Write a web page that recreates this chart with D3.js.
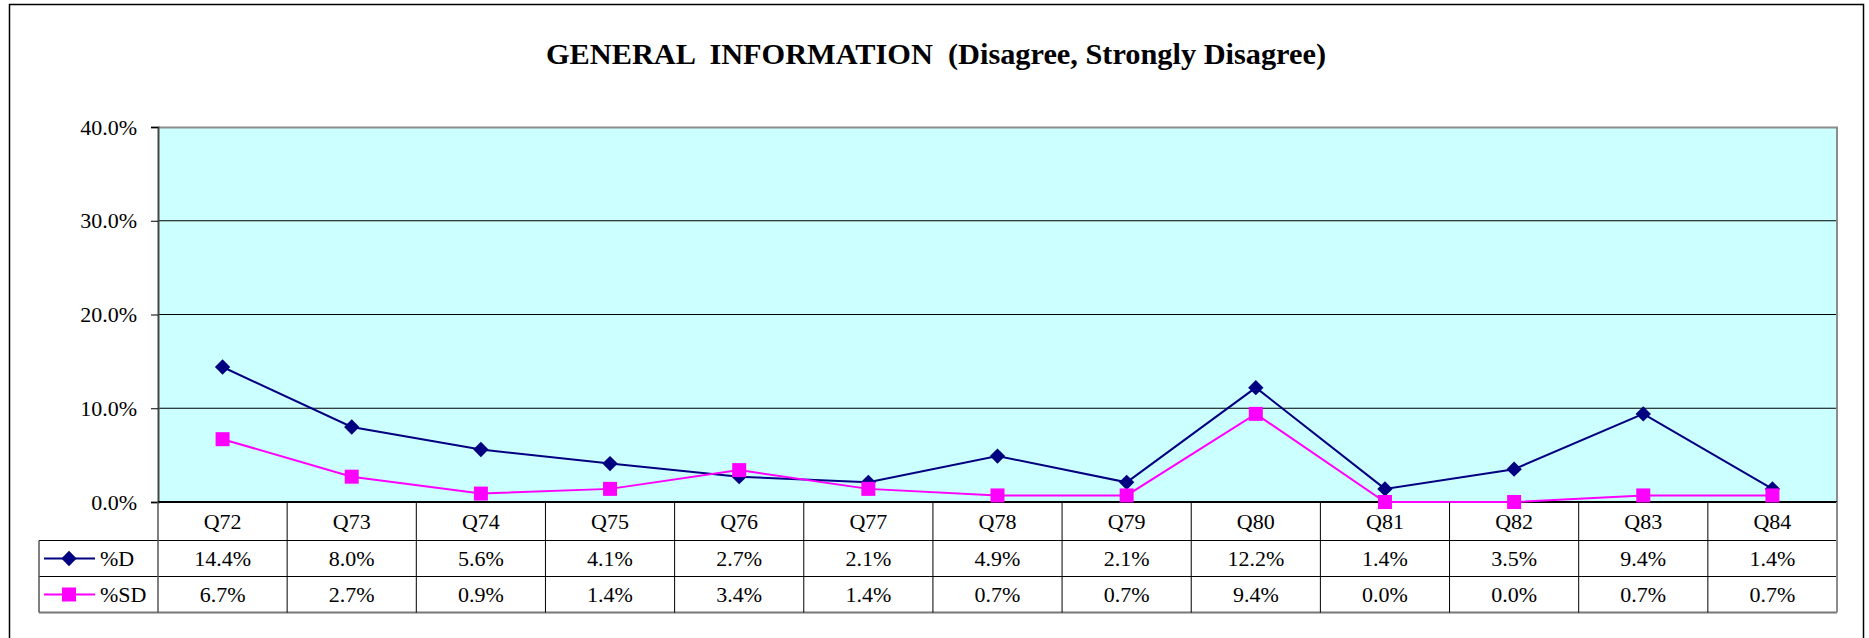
<!DOCTYPE html>
<html>
<head>
<meta charset="utf-8">
<script src="https://cdn.jsdelivr.net/npm/d3@7"></script>
<style>
    body { margin: 0; background: #fff; }
    svg text { font-family: "Liberation Serif", "Times New Roman", serif; fill: #000; }
</style>
</head>
<body>
<div id="chart"></div>
<script>
// data
const categories = ["Q72", "Q73", "Q74", "Q75", "Q76", "Q77", "Q78", "Q79", "Q80", "Q81", "Q82", "Q83", "Q84"];
const pctD = [14.4, 8.0, 5.6, 4.1, 2.7, 2.1, 4.9, 2.1, 12.2, 1.4, 3.5, 9.4, 1.4];
const pctSD = [6.7, 2.7, 0.9, 1.4, 3.4, 1.4, 0.7, 0.7, 9.4, 0.0, 0.0, 0.7, 0.7];
const yTicks = [0, 10, 20, 30, 40];
const seriesNames = ["%D", "%SD"];
const chartTitle = "GENERAL  INFORMATION  (Disagree, Strongly Disagree)";

const W = 1869, H = 638;
const margin = { top: 127, left: 158, right: 32, bottom: 136 };
const plotW = W - margin.left - margin.right;
const plotH = H - margin.top - margin.bottom;
const rowH = [38.5, 36, 36];
const fontSize = 22;

const svg = d3.select("#chart").append("svg")
    .attr("width", W)
    .attr("height", H);

// outer frame
svg.append("rect")
    .attr("x", 9.5).attr("y", 4.5)
    .attr("width", 1854).attr("height", H + 10)
    .attr("fill", "#fff")
    .attr("stroke", "#000")
    .attr("stroke-width", 1.5);

svg.append("text")
    .attr("x", 936)
    .attr("y", 64)
    .attr("text-anchor", "middle")
    .attr("font-size", 30)
    .attr("font-weight", "bold")
    .attr("textLength", 780)
    .attr("lengthAdjust", "spacingAndGlyphs")
    .style("white-space", "pre")
    .text(chartTitle);

const x = d3.scaleBand()
    .domain(categories)
    .range([0, plotW]);

const y = d3.scaleLinear()
    .domain([0, 40])
    .range([plotH, 0]);

const plot = svg.append("g")
    .attr("transform", `translate(${margin.left},${margin.top})`);

plot.append("rect")
    .attr("width", plotW)
    .attr("height", plotH)
    .attr("fill", "#ccffff");

// gridlines
plot.selectAll(".grid")
    .data(yTicks.filter(d => d > 0 && d < 40))
    .enter().append("line")
    .attr("x1", 0).attr("x2", plotW)
    .attr("y1", d => y(d)).attr("y2", d => y(d))
    .attr("stroke", "#000")
    .attr("stroke-width", 1);

// plot border (grey top/right)
plot.append("path")
    .attr("d", `M0,0.5H${plotW}V${plotH}`)
    .attr("fill", "none")
    .attr("stroke", "#8c8c8c")
    .attr("stroke-width", 2);

const yAxis = d3.axisLeft(y)
    .tickValues(yTicks)
    .tickSize(7)
    .tickPadding(14)
    .tickFormat(d => d3.format(".1f")(d) + "%");

plot.append("g")
    .attr("class", "y-axis")
    .call(yAxis)
    .call(g => g.select(".domain").attr("stroke", "#444").attr("stroke-width", 2))
    .call(g => g.selectAll(".tick line").attr("stroke", "#000"))
    .call(g => g.selectAll("text").attr("font-size", fontSize).attr("fill", "#000"));

// zero axis line
plot.append("line")
    .attr("x1", 0).attr("x2", plotW)
    .attr("y1", plotH).attr("y2", plotH)
    .attr("stroke", "#000")
    .attr("stroke-width", 2);

const line = d3.line()
    .x((d, i) => x(categories[i]) + x.bandwidth() / 2)
    .y(d => y(d));

const colors = ["#000080", "#ff00ff"];
const allSeries = [pctD, pctSD];

allSeries.forEach((s, k) => {
    plot.append("path")
        .attr("d", line(s))
        .attr("fill", "none")
        .attr("stroke", colors[k])
        .attr("stroke-width", 2);
});

// markers
const diamond = d3.symbol().type(d3.symbolDiamond2).size(150);
plot.selectAll(".mk-d")
    .data(pctD)
    .enter().append("path")
    .attr("d", diamond)
    .attr("transform", (d, i) => `translate(${x(categories[i]) + x.bandwidth() / 2},${y(d)})`)
    .attr("fill", colors[0]);

plot.selectAll(".mk-sd")
    .data(pctSD)
    .enter().append("rect")
    .attr("x", (d, i) => x(categories[i]) + x.bandwidth() / 2 - 7)
    .attr("y", d => y(d) - 7)
    .attr("width", 14).attr("height", 14)
    .attr("fill", colors[1]);

// data table
const table = svg.append("g")
    .attr("transform", `translate(${margin.left},${margin.top + plotH})`);

const rowTop = [0, rowH[0], rowH[0] + rowH[1]];
const tableH = rowH[0] + rowH[1] + rowH[2];
const legendX = 39 - margin.left;

// horizontal lines
table.append("line")
    .attr("x1", legendX).attr("x2", plotW)
    .attr("y1", rowTop[1]).attr("y2", rowTop[1])
    .attr("stroke", "#000");
table.append("line")
    .attr("x1", legendX).attr("x2", plotW)
    .attr("y1", rowTop[2]).attr("y2", rowTop[2])
    .attr("stroke", "#000");
table.append("line")
    .attr("x1", legendX).attr("x2", plotW)
    .attr("y1", tableH).attr("y2", tableH)
    .attr("stroke", "#777").attr("stroke-width", 2);

// vertical lines
table.selectAll(".vline")
    .data(categories.slice(1))
    .enter().append("line")
    .attr("x1", d => x(d)).attr("x2", d => x(d))
    .attr("y1", 0).attr("y2", tableH)
    .attr("stroke", "#000");
table.append("line")
    .attr("x1", 0).attr("x2", 0)
    .attr("y1", 0).attr("y2", tableH)
    .attr("stroke", "#555").attr("stroke-width", 1.5);
table.append("line")
    .attr("x1", legendX).attr("x2", legendX)
    .attr("y1", rowTop[1]).attr("y2", tableH)
    .attr("stroke", "#555").attr("stroke-width", 1.5);
table.append("line")
    .attr("x1", plotW).attr("x2", plotW)
    .attr("y1", 0).attr("y2", tableH)
    .attr("stroke", "#8c8c8c").attr("stroke-width", 2);

// category labels
table.selectAll(".cat")
    .data(categories)
    .enter().append("text")
    .attr("x", d => x(d) + x.bandwidth() / 2)
    .attr("y", rowH[0] / 2)
    .attr("dy", "0.35em")
    .attr("text-anchor", "middle")
    .attr("font-size", fontSize)
    .text(d => d);

allSeries.forEach((s, k) => {
    let cy = rowTop[k + 1] + rowH[k + 1] / 2;
    table.selectAll(`.val${k}`)
        .data(s)
        .enter().append("text")
        .attr("x", (d, i) => x(categories[i]) + x.bandwidth() / 2)
        .attr("y", cy)
        .attr("dy", "0.35em")
        .attr("text-anchor", "middle")
        .attr("font-size", fontSize)
        .text(d => d.toFixed(1) + "%");

    // legend key
    let lx = 44 - margin.left;
    table.append("line")
        .attr("x1", lx).attr("x2", lx + 51)
        .attr("y1", cy).attr("y2", cy)
        .attr("stroke", colors[k]).attr("stroke-width", 2);
    if (k === 0) {
        table.append("path")
            .attr("d", diamond)
            .attr("transform", `translate(${lx + 25},${cy})`)
            .attr("fill", colors[k]);
    } else {
        table.append("rect")
            .attr("x", lx + 25 - 7).attr("y", cy - 7)
            .attr("width", 14).attr("height", 14)
            .attr("fill", colors[k]);
    }
    table.append("text")
        .attr("x", lx + 56)
        .attr("y", cy)
        .attr("dy", "0.35em")
        .attr("font-size", fontSize)
        .text(seriesNames[k]);
});
</script>
</body>
</html>
